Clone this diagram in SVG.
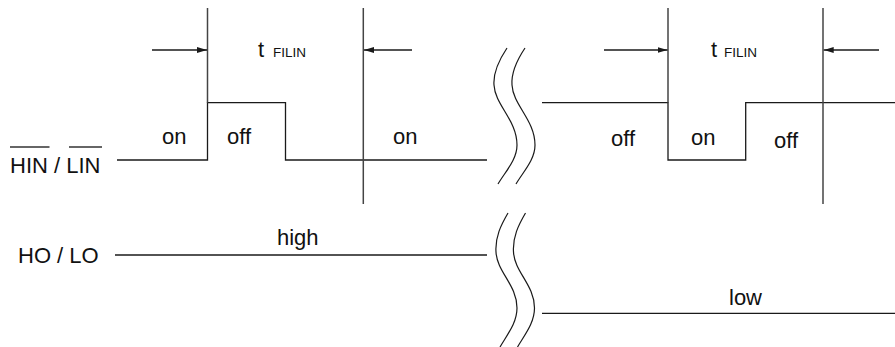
<svg xmlns="http://www.w3.org/2000/svg" width="895" height="347" viewBox="0 0 895 347">
<style>
text{font-family:"Liberation Sans",Arial,sans-serif;font-size:22px;fill:#111}
.sub{font-size:13.5px}
.sig{fill:none;stroke:#1a1a1a;stroke-width:1.3}
.mk{fill:none;stroke:#444;stroke-width:1.5}
.arr{fill:none;stroke:#1a1a1a;stroke-width:1.3}
.brk{fill:none;stroke:#1a1a1a;stroke-width:1.2}
</style>
<defs>
<marker id="ah" viewBox="0 0 10 6" refX="10" refY="3" markerWidth="10" markerHeight="6" markerUnits="userSpaceOnUse" orient="auto">
<path d="M0,0 L10,3 L0,6 Z" fill="#1a1a1a"/>
</marker>
</defs>
<g id="labels">
<text x="10" y="173">HIN / LIN</text>
<line x1="10" y1="147" x2="49.5" y2="147" stroke="#333" stroke-width="1.4"/>
<line x1="69" y1="147" x2="102" y2="147" stroke="#333" stroke-width="1.4"/>
<text x="18" y="263">HO / LO</text>
</g>
<g id="connectors">
<path class="sig" d="M117,160 H207.5 V102.7 H285.5 V160 H487"/>
<path class="sig" d="M542,102.7 H668 V160 H745.7 V102.7 H895"/>
<line class="sig" x1="115" y1="255" x2="487" y2="255"/>
<line class="sig" x1="542" y1="313.3" x2="895" y2="313.3"/>
<line class="mk" x1="207.5" y1="8" x2="207.5" y2="102.7"/>
<line class="mk" x1="363.3" y1="8" x2="363.3" y2="204"/>
<line class="mk" x1="668" y1="8" x2="668" y2="102.7"/>
<line class="mk" x1="823" y1="8" x2="823" y2="204"/>
<line class="arr" x1="152" y1="50" x2="207" y2="50" marker-end="url(#ah)"/>
<line class="arr" x1="412" y1="50" x2="364" y2="50" marker-end="url(#ah)"/>
<line class="arr" x1="604" y1="50" x2="667.5" y2="50" marker-end="url(#ah)"/>
<line class="arr" x1="879" y1="50" x2="823.7" y2="50" marker-end="url(#ah)"/>
</g>
<g id="breaks">
<path class="brk" d="M507,48 C499,60 493,72 494,85 C495,105 517,120 517,145 C517,160 505,172 498,184"/>
<path class="brk" d="M525,48 C517,60 511,72 512,85 C513,105 535,120 535,145 C535,160 523,172 516,184"/>
<path class="brk" d="M508,213 C501,225 495,237 496,252 C497,272 517,285 517,308 C517,323 507,335 500,347"/>
<path class="brk" d="M525.5,213 C518.5,225 512.5,237 513.5,252 C514.5,272 534.5,285 534.5,308 C534.5,323 524.5,335 517.5,347"/>
</g>
<g id="texts">
<text x="162" y="144">on</text>
<text x="227" y="144">off</text>
<text x="393" y="144">on</text>
<text x="258" y="57">t<tspan class="sub" x="273">FILIN</tspan></text>
<text x="611" y="146">off</text>
<text x="691" y="145">on</text>
<text x="774" y="148">off</text>
<text x="711" y="57">t<tspan class="sub" x="724">FILIN</tspan></text>
<text x="277" y="245">high</text>
<text x="729" y="305">low</text>
</g>
</svg>
